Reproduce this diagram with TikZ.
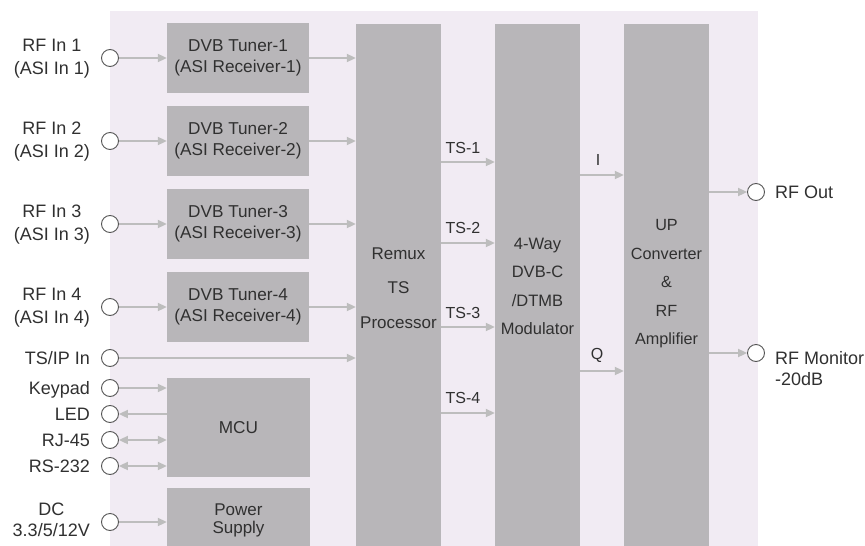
\documentclass[tikz,border=0pt]{standalone}
\usepackage{fontspec}
\setmainfont{Liberation Sans}
\usetikzlibrary{arrows.meta}
\definecolor{panelc}{HTML}{F1EBF3}
\definecolor{boxc}{HTML}{B8B6B9}
\definecolor{arrc}{HTML}{BDBDBD}
\definecolor{portc}{HTML}{555555}
\definecolor{txt}{HTML}{303030}
\begin{document}
\begin{tikzpicture}[x=1pt,y=-1pt,
  box/.style={fill=boxc, draw=none, inner sep=0pt, text=txt, align=center,
    font=\fontsize{17.2}{20.5}\selectfont},
  port/.style={circle, draw=portc, line width=0.9pt, fill=white,
    minimum size=17pt, inner sep=0pt},
  arr/.style={draw=arrc, line width=2pt, -{Triangle[length=9pt,width=8pt]}},
  arrboth/.style={draw=arrc, line width=2pt, {Triangle[length=9pt,width=8pt]}-{Triangle[length=9pt,width=8pt]}},
  lbl/.style={text=txt, inner sep=0pt, align=center, font=\fontsize{18}{23}\selectfont},
  slbl/.style={lbl, anchor=east, text height=12.9pt, text depth=0pt},
  tslbl/.style={text=txt, inner sep=0pt, font=\fontsize{16}{19}\selectfont},
  inlbl/.style={text=txt, inner sep=0pt, align=center}]
\useasboundingbox (0,0) rectangle (865,546);
\clip (0,0) rectangle (865,546);
\fill[panelc] (110,11) rectangle (758,560);

% tuner boxes
\node[box, minimum width=142pt, minimum height=70pt] (t1) at (238,58) {DVB Tuner-1\\(ASI Receiver-1)};
\node[box, minimum width=142pt, minimum height=70pt] (t2) at (238,141) {DVB Tuner-2\\(ASI Receiver-2)};
\node[box, minimum width=142pt, minimum height=70pt] (t3) at (238,224) {DVB Tuner-3\\(ASI Receiver-3)};
\node[box, minimum width=142pt, minimum height=70pt] (t4) at (238,307) {DVB Tuner-4\\(ASI Receiver-4)};
\node[box, minimum width=143pt, minimum height=99pt] (mcu) at (238.5,427.5) {MCU};
\node[box, minimum width=143pt, minimum height=64pt, font=\fontsize{17}{18}\selectfont] (power) at (238.5,520) {Power\\Supply};

% big boxes
\node[box, minimum width=85pt, minimum height=546pt] (remux) at (398.5,297) {};
\node[box, minimum width=85pt, minimum height=546pt] (mod) at (537.5,297) {};
\node[box, minimum width=85pt, minimum height=546pt] (up) at (666.5,297) {};
\node[inlbl, font=\fontsize{17}{34.5}\selectfont] (remuxtxt) at (398.5,288) {Remux\\TS\\Processor};
\node[inlbl, font=\fontsize{16.5}{28.3}\selectfont] (modtxt) at (537.5,286.5) {4-Way\\DVB-C\\/DTMB\\Modulator};
\node[inlbl, font=\fontsize{16.2}{28.5}\selectfont] (uptxt) at (666.5,284) {UP\\Converter\\\&\\RF\\Amplifier};

% ports
\node[port] (c1) at (110,58) {};
\node[port] (c2) at (110,141) {};
\node[port] (c3) at (110,224) {};
\node[port] (c4) at (110,307) {};
\node[port] (cts) at (110,358) {};
\node[port] (ckey) at (110,388) {};
\node[port] (cled) at (110,414) {};
\node[port] (crj) at (110,440) {};
\node[port] (crs) at (110,466) {};
\node[port] (cdc) at (110,522) {};
\node[port] (cout) at (756,192) {};
\node[port] (cmon) at (756,353) {};

% left labels
\node[lbl, anchor=east] (l1) at (90,59) {RF In 1\\(ASI In 1)};
\node[lbl, anchor=east] (l2) at (90,142) {RF In 2\\(ASI In 2)};
\node[lbl, anchor=east] (l3) at (90,225) {RF In 3\\(ASI In 3)};
\node[lbl, anchor=east] (l4) at (90,308) {RF In 4\\(ASI In 4)};
\node[slbl] (lts) at (90,358) {TS/IP In};
\node[slbl] (lkey) at (90,388) {Keypad};
\node[slbl] (lled) at (90,414) {LED};
\node[slbl] (lrj) at (90,440) {RJ-45};
\node[slbl] (lrs) at (90,466) {RS-232};
\node[lbl, anchor=east, font=\fontsize{18}{21}\selectfont] (ldc) at (90,520) {DC\\3.3/5/12V};

% right labels
\node[lbl, anchor=west, text height=12.9pt, text depth=0pt] (lout) at (775,192) {RF Out};
\node[lbl, anchor=north west, align=left, font=\fontsize{18}{21}\selectfont] (lmon) at (775,351) {RF Monitor\\-20dB};

% connectors, inputs
\draw[arr] (c1) -- (t1);
\draw[arr] (c2) -- (t2);
\draw[arr] (c3) -- (t3);
\draw[arr] (c4) -- (t4);
\draw[arr] (t1.east) -- (t1.east -| remux.west);
\draw[arr] (t2.east) -- (t2.east -| remux.west);
\draw[arr] (t3.east) -- (t3.east -| remux.west);
\draw[arr] (t4.east) -- (t4.east -| remux.west);
\draw[arr] (cts) -- (cts -| remux.west);
\draw[arr] (ckey) -- (ckey -| mcu.west);
\draw[arr] (cled -| mcu.west) -- (cled);
\draw[arrboth] (crj) -- (crj -| mcu.west);
\draw[arrboth] (crs) -- (crs -| mcu.west);
\draw[arr] (cdc) -- (cdc -| power.west);

% TS streams
\draw[arr] (remux.east |- 0,162) -- (mod.west |- 0,162);
\draw[arr] (remux.east |- 0,243) -- (mod.west |- 0,243);
\draw[arr] (remux.east |- 0,327) -- (mod.west |- 0,327);
\draw[arr] (remux.east |- 0,413) -- (mod.west |- 0,413);
\node[tslbl] (ts1) at (463,148) {TS-1};
\node[tslbl] (ts2) at (463,228) {TS-2};
\node[tslbl] (ts3) at (463,313) {TS-3};
\node[tslbl] (ts4) at (463,398) {TS-4};

% I/Q
\draw[arr] (mod.east |- 0,175) -- (up.west |- 0,175);
\draw[arr] (mod.east |- 0,371) -- (up.west |- 0,371);
\node[tslbl] (li) at (598,160) {I};
\node[tslbl] (lq) at (597,355) {Q};

% outputs
\draw[arr] (up.east |- cout) -- (cout);
\draw[arr] (up.east |- cmon) -- (cmon);
\end{tikzpicture}
\end{document}
